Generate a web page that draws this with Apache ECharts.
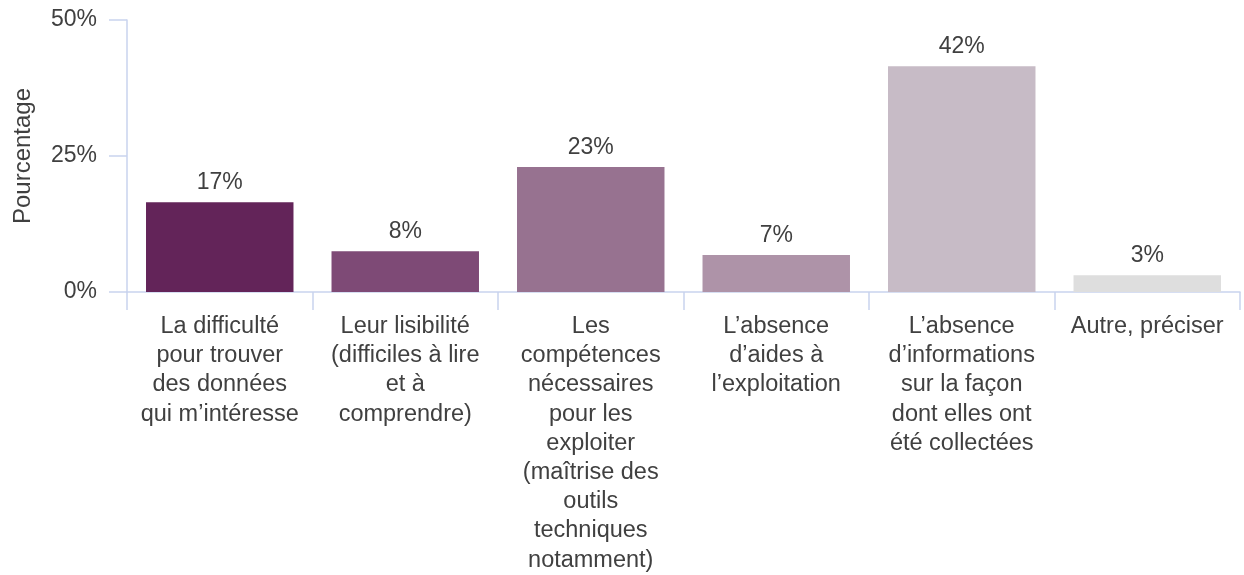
<!DOCTYPE html>
<html>
<head>
<meta charset="utf-8">
<script src="https://cdn.jsdelivr.net/npm/echarts@6/dist/echarts.min.js"></script>
<style>
  html, body { margin: 0; padding: 0; background: #fff; }
  #chart { width: 1244px; height: 575px; }
</style>
</head>
<body>
<div id="chart"></div>
<script>
// catégories (retours à la ligne comme sur l'image)
const categories = [
  "La difficulté\npour trouver\ndes données\nqui m’intéresse",
  "Leur lisibilité\n(difficiles à lire\net à\ncomprendre)",
  "Les\ncompétences\nnécessaires\npour les\nexploiter\n(maîtrise des\noutils\ntechniques\nnotamment)",
  "L’absence\nd’aides à\nl’exploitation",
  "L’absence\nd’informations\nsur la façon\ndont elles ont\nété collectées",
  "Autre, préciser"
]
// pourcentages
const values = [16.5, 7.5, 23.0, 6.8, 41.5, 3.1]
const barColors = ['#632459', '#7e4a76', '#977290', '#ae93a8', '#c7bbc6', '#dedede']
const yTicks = [0, 25, 50]

const font = 'Liberation Sans, Arial, sans-serif'
const textColor = '#404040'
const axisColor = '#c9d3ee'

let chart = echarts.init(document.getElementById('chart'))

let option = {
  animation: false,
  grid: {
    left: 127,
    right: 4,
    top: 20,
    bottom: 283,
    outerBoundsMode: 'none'
  },
  xAxis: {
    type: 'category',
    data: categories,
    axisLine: { lineStyle: { color: axisColor, width: 1.5 } },
    axisTick: { show: true, length: 18, lineStyle: { color: axisColor, width: 1.5 } },
    axisLabel: {
      interval: 0,
      margin: 20,
      color: textColor,
      fontFamily: font,
      fontSize: 23.5,
      lineHeight: 29.2,
      align: 'center'
    }
  },
  yAxis: {
    type: 'value',
    min: yTicks[0],
    max: yTicks[yTicks.length - 1],
    interval: 25,
    name: 'Pourcentage',
    nameLocation: 'middle',
    nameGap: 92,
    nameRotate: 90,
    nameTextStyle: { color: textColor, fontFamily: font, fontSize: 24 },
    axisLine: { show: true, lineStyle: { color: axisColor, width: 1.5 } },
    axisTick: { show: true, length: 18, lineStyle: { color: axisColor, width: 1.5 } },
    splitLine: { show: false },
    axisLabel: {
      margin: 30,
      color: textColor,
      fontFamily: font,
      fontSize: 23,
      formatter: v => v + '%'
    }
  },
  series: [
    {
      type: 'bar',
      data: values.map((v, i) => ({ value: v, itemStyle: { color: barColors[i] } })),
      barCategoryGap: '20.5%',
      label: {
        show: true,
        position: 'top',
        distance: 8,
        color: textColor,
        fontFamily: font,
        fontSize: 23,
        formatter: p => Math.round(p.value) + '%'
      }
    }
  ]
}

chart.setOption(option)
</script>
</body>
</html>
